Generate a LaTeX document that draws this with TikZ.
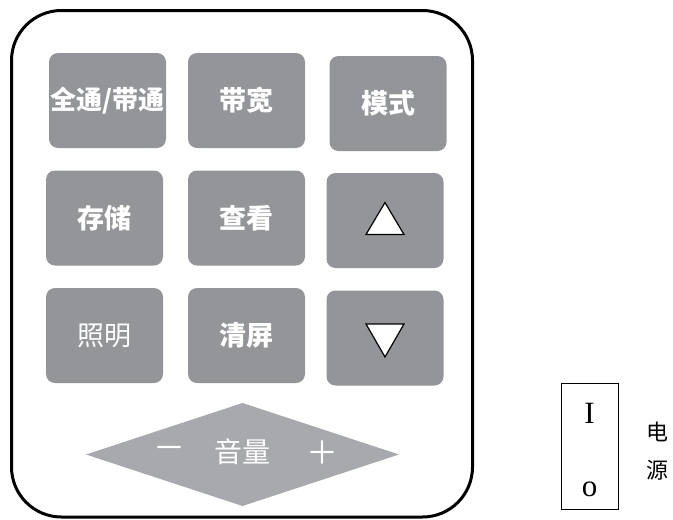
\documentclass[tikz,border=0pt]{standalone}
\usepackage{fontspec}
\setmainfont{Liberation Serif}
\newfontfamily\cjk{Noto Sans CJK SC}
\usetikzlibrary{calc}
\definecolor{btngray}{HTML}{939598}
\definecolor{volgray}{HTML}{A7A9AC}
\tikzset{
  btn/.style={fill=btngray, rounded corners=9pt, minimum width=117pt, minimum height=95pt,
    text=white, inner sep=0pt, font=\cjk\bfseries\fontsize{27}{27}\selectfont},
  btnlight/.style={btn, font=\cjk\fontsize{27}{27}\selectfont},
  tri/.style={draw=black, fill=white, line width=1.2pt, line join=miter},
  lbl/.style={inner sep=0pt}
}
\begin{document}
\begin{tikzpicture}[x=1pt,y=-1pt]
\useasboundingbox (0,0) rectangle (673,520);
% body
\draw[line width=3pt, rounded corners=50pt] (11.5,10.5) rectangle (472.5,517);
% buttons
\node[btn, font=\cjk\bfseries\fontsize{26}{26}\selectfont] (b1) at (107.5,100.5) {全通/带通};
\node[btn] (b2) at (246.5,100.5) {带宽};
\node[btn] (b3) at (388,103.5) {模式};
\node[btn] (b4) at (104.5,218) {存储};
\node[btn] (b5) at (246.5,218) {查看};
\node[btn] (b6) at (385,220.5) {};
\node[btnlight] (b7) at (104.5,335.5) {照明};
\node[btn] (b8) at (246.5,335.5) {清屏};
\node[btn] (b9) at (385,338) {};
% arrows
\draw[tri] ($(b6.center)+(0,-18)$) -- ++(19,32) -- ++(-38,0) -- cycle;
\draw[tri] ($(b9.center)+(-19,-14)$) -- ++(38,0) -- ++(-19,33) -- cycle;
% volume diamond
\coordinate (vol) at (242.5,454.5);
\fill[volgray] ($(vol)+(-156.5,0)$) -- ($(vol)+(0,-51.5)$) -- ($(vol)+(156.5,0)$) -- ($(vol)+(0,51.5)$) -- cycle;
\node[lbl, text=white, font=\cjk\fontsize{28}{28}\selectfont] (vt) at ($(vol)+(0,-3)$) {音量};
\node[lbl, text=white, font=\cjk\fontsize{32}{32}\selectfont] (vm) at (169,453) {－};
\node[lbl, text=white, font=\cjk\fontsize{32}{32}\selectfont] (vp) at (322.5,453) {＋};
% power switch
\node[draw, line width=1pt, minimum width=57pt, minimum height=126pt, inner sep=0pt] (sw) at (589.5,446) {};
\node[lbl, font=\fontsize{31}{31}\selectfont] (on) at (589.5,413) {I};
\node[lbl, font=\fontsize{31}{31}\selectfont] (off) at (589.5,489) {o};
\node[lbl, font=\cjk\fontsize{22}{22}\selectfont] (p1) at (657,432) {电};
\node[lbl, font=\cjk\fontsize{22}{22}\selectfont] (p2) at (657,470) {源};
\end{tikzpicture}
\end{document}
